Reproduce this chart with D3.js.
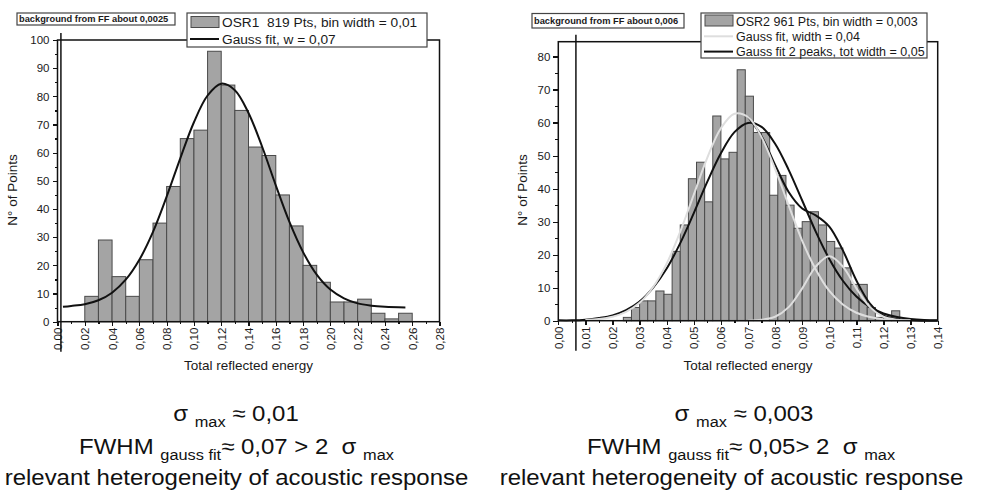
<!DOCTYPE html>
<meta charset="utf-8">
<style>
body { margin: 0; background: #fff; font-family: 'Liberation Sans', Arial, sans-serif; }
text { fill: #1a1a1a; }
.axis path, .axis line { stroke: #111; stroke-width: 1.2px; shape-rendering: crispEdges; }
.axis text { font-size: 11.5px; }
.bar { fill: #a4a4a4; stroke: #4a4a4a; stroke-width: 1px; }
.fit { fill: none; stroke: #111; stroke-width: 2px; }
.fit-light { fill: none; stroke: #dedede; stroke-width: 2px; }
.frame { fill: none; stroke: #111; stroke-width: 1.5px; }
.bg-line { stroke: #111; stroke-width: 1.5px; }
.legend-box { fill: #fff; stroke: #444; stroke-width: 1.2px; }
.legend-text { font-size: 13.7px; }
.note-text { font-size: 9.3px; font-weight: bold; }
.axis-title { font-size: 13.5px; text-anchor: middle; }
.remark { font-size: 22px; text-anchor: middle; fill: #111; white-space: pre; }
</style>
<body>
<svg width="984" height="491"></svg>
<script src="https://d3js.org/d3.v7.min.js"></script>
<script>
// ---- left panel (OSR1) ----
var leftBinStart = [0.02, 0.03, 0.04, 0.05, 0.06, 0.07, 0.08, 0.09, 0.10, 0.11, 0.12, 0.13,
                    0.14, 0.15, 0.16, 0.17, 0.18, 0.19, 0.20, 0.21, 0.22, 0.23, 0.24, 0.25];
var leftCounts   = [9, 29, 16, 9, 22, 35, 48, 65, 68, 96, 84, 75,
                    62, 59, 45, 34, 20, 14, 7, 7, 8, 3, 1, 3];
var leftBinWidth = 0.01;
var leftFitX = [0.004, 0.01, 0.02, 0.03, 0.04, 0.05, 0.06, 0.07, 0.08, 0.09, 0.10, 0.11, 0.12,
                0.13, 0.14, 0.15, 0.16, 0.17, 0.18, 0.19, 0.20, 0.21, 0.22, 0.23, 0.24, 0.255];
var leftFitY = [5.3, 5.6, 6.2, 7.6, 10.3, 14.9, 22.0, 31.9, 44.4, 58.0, 70.8, 80.3, 84.5,
                82.2, 74.1, 62.1, 48.4, 35.4, 24.7, 16.7, 11.4, 8.3, 6.5, 5.7, 5.3, 5.05];
var leftXTicks = [0, 0.02, 0.04, 0.06, 0.08, 0.10, 0.12, 0.14, 0.16, 0.18, 0.20, 0.22, 0.24, 0.26, 0.28];
var leftXMinor = [0.01, 0.03, 0.05, 0.07, 0.09, 0.11, 0.13, 0.15, 0.17, 0.19, 0.21, 0.23, 0.25, 0.27];
var leftYTicks = [0, 10, 20, 30, 40, 50, 60, 70, 80, 90, 100];
var leftYMinor = [5, 15, 25, 35, 45, 55, 65, 75, 85, 95];

// ---- right panel (OSR2) ----
var rightBinStart = [0.024, 0.027, 0.030, 0.033, 0.036, 0.039, 0.042, 0.045, 0.048, 0.051, 0.054, 0.057,
                     0.060, 0.063, 0.066, 0.069, 0.072, 0.075, 0.078, 0.081, 0.084, 0.087, 0.090, 0.093,
                     0.096, 0.099, 0.102, 0.105, 0.108, 0.111, 0.114, 0.117, 0.120, 0.123];
var rightCounts   = [1, 4, 6, 6, 9, 8, 21, 29, 43, 48, 36, 62,
                     49, 51, 76, 68, 57, 57, 38, 44, 35, 28, 30, 33,
                     29, 24, 22, 16, 11, 11, 4, 1, 1, 3];
var rightBinWidth = 0.003;
var rightCurveX = [0.000, 0.005, 0.010, 0.015, 0.020, 0.025, 0.030, 0.035, 0.040, 0.045, 0.050,
                   0.055, 0.060, 0.065, 0.070, 0.075, 0.080, 0.085, 0.090, 0.095, 0.100, 0.105,
                   0.110, 0.115, 0.120, 0.125, 0.130, 0.135, 0.140];
var rightWideFit = [0.1, 0.1, 0.3, 0.8, 1.6, 3.2, 5.8, 10.0, 15.8, 23.5, 32.6,
                    42.1, 50.7, 57.1, 59.9, 58.7, 53.6, 45.7, 36.4, 27.0, 18.7, 12.1,
                    7.3, 4.1, 2.2, 1.1, 0.5, 0.2, 0.1];
var rightPeak1X = [0.010, 0.015, 0.020, 0.025, 0.030, 0.035, 0.040, 0.045, 0.050, 0.055, 0.060, 0.065,
                   0.070, 0.075, 0.080, 0.085, 0.090, 0.095, 0.100, 0.105, 0.110, 0.115, 0.120, 0.125, 0.130];
var rightPeak1Y = [0.2, 0.5, 1.2, 2.7, 5.4, 10.2, 17.3, 27.0, 38.2, 49.4, 58.3, 62.7,
                   61.7, 55.6, 46.0, 34.9, 24.2, 15.5, 9.0, 4.9, 2.4, 1.1, 0.4, 0.2, 0.1];
var rightPeak2X = [0.070, 0.075, 0.080, 0.085, 0.090, 0.095, 0.100, 0.105, 0.110, 0.115, 0.120, 0.125, 0.130];
var rightPeak2Y = [0.0, 0.3, 1.2, 4.1, 9.8, 16.4, 19.5, 16.4, 9.8, 4.1, 1.2, 0.3, 0.0];
var rightSumX = [0.070, 0.075, 0.080, 0.085, 0.090, 0.095, 0.100, 0.105, 0.110, 0.115, 0.120,
                 0.125, 0.130, 0.135, 0.140];
var rightSumY = [61.7, 55.9, 47.2, 39.0, 34.0, 31.9, 28.5, 21.3, 12.2, 5.2, 1.6,
                 0.5, 0.1, 0.0, 0.0];
var rightXTicks = [0, 0.01, 0.02, 0.03, 0.04, 0.05, 0.06, 0.07, 0.08, 0.09, 0.10, 0.11, 0.12, 0.13, 0.14];
var rightXMinor = [0.005, 0.015, 0.025, 0.035, 0.045, 0.055, 0.065, 0.075, 0.085, 0.095,
                   0.105, 0.115, 0.125, 0.135];
var rightYTicks = [0, 10, 20, 30, 40, 50, 60, 70, 80];
var rightYMinor = [5, 15, 25, 35, 45, 55, 65, 75];

var svg = d3.select("svg");
var fmt = function(d) { return d.toFixed(2).replace(".", ","); };

function drawPanel(p) {
  var x = d3.scaleLinear().domain(p.xDomain).range(p.xRange);
  var y = d3.scaleLinear().domain(p.yDomain).range(p.yRange);
  var g = svg.append("g");

  // histogram bars
  g.selectAll(".bar")
      .data(p.binStart.map(function(s, i) { return {s: s, c: p.counts[i]}; }))
    .enter().append("rect")
      .attr("class", "bar")
      .attr("x", function(d) { return x(d.s); })
      .attr("width", function(d) { return x(d.s + p.binWidth) - x(d.s); })
      .attr("y", function(d) { return y(d.c); })
      .attr("height", function(d) { return y(0) - y(d.c); });

  // fit curves
  var line = d3.line()
      .x(function(d) { return x(d[0]); })
      .y(function(d) { return y(d[1]); })
      .curve(d3.curveCatmullRom.alpha(0.5));
  p.curves.forEach(function(c) {
    g.append("path").datum(d3.zip(c.x, c.y)).attr("class", c.cls).attr("d", line);
  });

  var x0 = x(p.xDomain[0]), x1 = x(p.xDomain[1]), yb = y(0), yt = y(p.yDomain[1]);

  // y axis
  g.append("g").attr("class", "axis")
      .attr("transform", "translate(" + x0 + ",0)")
      .call(d3.axisLeft(y).tickValues(p.yTicks).tickSize(5).tickPadding(3).tickSizeOuter(0))
      .call(function(a) { a.select(".domain").remove(); });
  g.append("g").attr("class", "axis")
      .attr("transform", "translate(" + x0 + ",0)")
      .call(d3.axisLeft(y).tickValues(p.yMinor).tickSize(3).tickFormat(""))
      .call(function(a) { a.select(".domain").remove(); });

  // x axis with rotated labels
  g.append("g").attr("class", "axis")
      .attr("transform", "translate(0," + yb + ")")
      .call(d3.axisBottom(x).tickValues(p.xTicks).tickSize(4).tickFormat(fmt))
      .call(function(a) { a.select(".domain").remove(); })
    .selectAll("text")
      .attr("transform", "rotate(-90)")
      .attr("x", -6).attr("y", 0).attr("dy", "0.35em")
      .style("text-anchor", "end");
  g.append("g").attr("class", "axis")
      .attr("transform", "translate(0," + yb + ")")
      .call(d3.axisBottom(x).tickValues(p.xMinor).tickSize(2.5).tickFormat(""))
      .call(function(a) { a.select(".domain").remove(); });

  // frame
  g.append("rect").attr("class", "frame")
      .attr("x", x0).attr("y", yt).attr("width", x1 - x0).attr("height", yb - yt);

  // background marker line
  g.append("line").attr("class", "bg-line")
      .attr("x1", x(p.bgValue)).attr("x2", x(p.bgValue))
      .attr("y1", yt - 7).attr("y2", yb + 30);

  // axis titles
  var cx = (x0 + x1) / 2;
  g.append("text").attr("class", "axis-title")
      .attr("x", cx).attr("y", 370).text("Total reflected energy");
  g.append("text").attr("class", "axis-title")
      .attr("transform", "translate(" + p.yTitleX + "," + 190 + ") rotate(-90)")
      .text("N° of Points");

  // note box
  var nb = p.note;
  g.append("rect").attr("class", "legend-box")
      .attr("x", nb.x).attr("y", nb.y).attr("width", nb.w).attr("height", nb.h);
  g.append("text").attr("class", "note-text")
      .attr("x", nb.x + 2).attr("y", nb.y + nb.h / 2 + 3.3).text(nb.text);

  // legend
  var lg = p.legend;
  g.append("rect").attr("class", "legend-box")
      .attr("x", lg.x).attr("y", lg.y).attr("width", lg.w).attr("height", lg.h);
  lg.items.forEach(function(it, i) {
    var cy = lg.y + lg.first + i * lg.step;
    if (it.type === "bar") {
      g.append("rect").attr("class", "bar")
          .attr("x", lg.x + 4).attr("y", cy - 6).attr("width", 28).attr("height", 11);
    } else {
      g.append("line").attr("class", it.type)
          .attr("x1", lg.x + 3).attr("x2", lg.x + 32).attr("y1", cy).attr("y2", cy);
    }
    g.append("text").attr("class", "legend-text")
        .style("font-size", lg.font + "px")
        .style("white-space", "pre")
        .attr("x", lg.x + 35).attr("y", cy + lg.font * 0.36).text(it.label);
  });
}

drawPanel({
  xDomain: [0, 0.28], xRange: [57.5, 439.5],
  yDomain: [0, 100], yRange: [321.7, 40],
  binStart: leftBinStart, counts: leftCounts, binWidth: leftBinWidth,
  curves: [{x: leftFitX, y: leftFitY, cls: "fit"}],
  xTicks: leftXTicks, xMinor: leftXMinor, yTicks: leftYTicks, yMinor: leftYMinor,
  bgValue: 0.0025, yTitleX: 17,
  note: {x: 17, y: 13, w: 158, h: 12, text: "background from FF about 0,0025"},
  legend: {x: 187, y: 13, w: 240, h: 34, first: 9.5, step: 16.5, font: 13.7,
    items: [{type: "bar", label: "OSR1  819 Pts, bin width = 0,01"},
            {type: "fit", label: "Gauss fit, w = 0,07"}]}
});

drawPanel({
  xDomain: [0, 0.14], xRange: [558.3, 937.7],
  yDomain: [0, 84.5], yRange: [320.7, 41.7],
  binStart: rightBinStart, counts: rightCounts, binWidth: rightBinWidth,
  curves: [{x: rightCurveX, y: rightWideFit, cls: "fit"},
           {x: rightSumX, y: rightSumY, cls: "fit"},
           {x: rightPeak2X, y: rightPeak2Y, cls: "fit-light"},
           {x: rightPeak1X, y: rightPeak1Y, cls: "fit-light"}],
  xTicks: rightXTicks, xMinor: rightXMinor, yTicks: rightYTicks, yMinor: rightYMinor,
  bgValue: 0.0065, yTitleX: 527,
  note: {x: 532, y: 13.5, w: 152, h: 14.5, text: "background from FF about 0,006"},
  legend: {x: 701, y: 13, w: 226, h: 45, first: 8, step: 15.3, font: 12.5,
    items: [{type: "bar", label: "OSR2 961 Pts, bin width = 0,003"},
            {type: "fit-light", label: "Gauss fit, width = 0,04"},
            {type: "fit", label: "Gauss fit 2 peaks, tot width = 0,05"}]}
});

// ---- remarks below the charts ----
function remark(cx, yBase, parts) {
  var t = svg.append("g")
      .attr("transform", "translate(" + cx + "," + yBase + ") scale(1.09,1)")
    .append("text").attr("class", "remark");
  var shift = 0;
  parts.forEach(function(pt) {
    var target = pt.sub ? 6 : 0;
    t.append("tspan")
        .attr("dy", target - shift)
        .style("font-size", pt.sub ? "15px" : null)
        .text(pt.t);
    shift = target;
  });
}

remark(236, 421, [{t: "σ "}, {t: "max", sub: true}, {t: " ≈ 0,01"}]);
remark(236.5, 454, [{t: "FWHM "}, {t: "gauss fit", sub: true}, {t: "≈ 0,07 > 2  σ "}, {t: "max", sub: true}]);
remark(236.5, 485, [{t: "relevant heterogeneity of acoustic response"}]);
remark(744, 421, [{t: "σ "}, {t: "max", sub: true}, {t: " ≈ 0,003"}]);
remark(741, 454, [{t: "FWHM "}, {t: "gauss fit", sub: true}, {t: "≈ 0,05> 2  σ "}, {t: "max", sub: true}]);
remark(731.5, 485, [{t: "relevant heterogeneity of acoustic response"}]);
</script>
